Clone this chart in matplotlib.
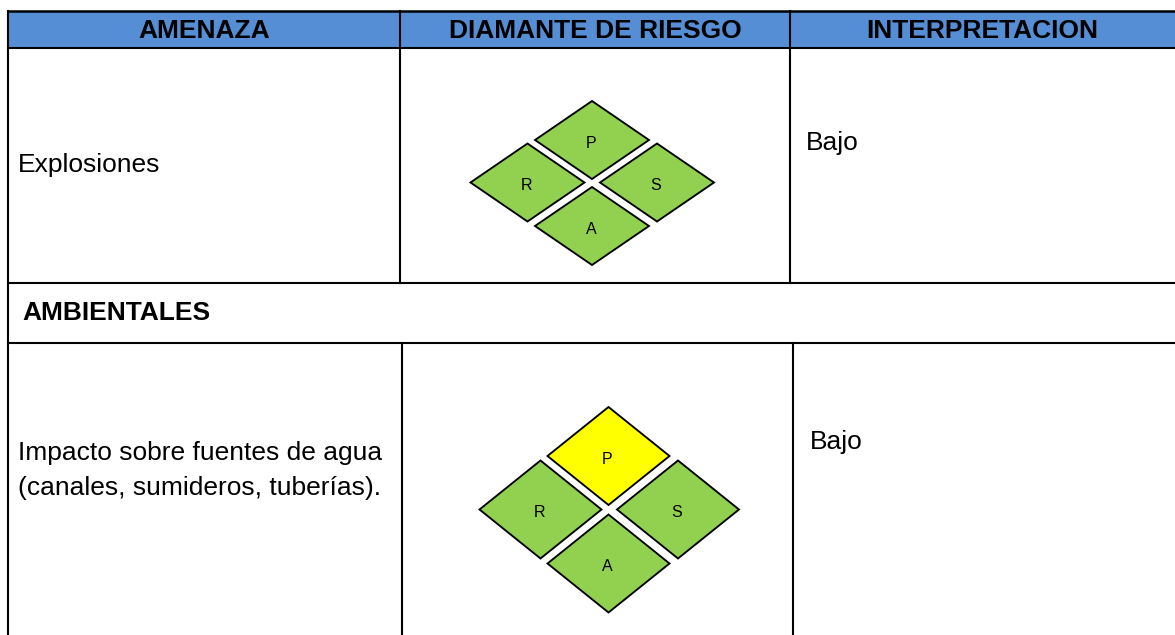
import matplotlib.pyplot as plt
from matplotlib.patches import Polygon, Rectangle

# Table content
headers = ["AMENAZA", "DIAMANTE DE RIESGO", "INTERPRETACION"]
section_title = "AMBIENTALES"
threats = ["Explosiones", "Impacto sobre fuentes de agua\n(canales, sumideros, tuberías)."]
interpretations = ["Bajo", "Bajo"]
diamond_letters = ["P", "R", "S", "A"]
# risk level of each diamond (P, R, S, A) per threat
risk_levels = [
    ["bajo", "bajo", "bajo", "bajo"],
    ["medio", "bajo", "bajo", "bajo"],
]
level_colors = {"bajo": "#92d050", "medio": "#ffff00", "alto": "#ff0000"}

W, H = 1175, 635
px = 1 / 100
fig = plt.figure(figsize=(W * px, H * px), dpi=100)
ax = fig.add_axes([0, 0, 1, 1])
ax.set_xlim(0, W)
ax.set_ylim(H, 0)
ax.axis("off")

body_font = ["Liberation Sans", "DejaVu Sans"]

# Layout (pixels)
left, right = 8, W
y_top, y_head, y_row1, y_sec = 10.5, 47.5, 283, 342.5
cols_top = [400, 790]
cols_bot = [402, 793]

# Header band
ax.add_patch(Rectangle((left, y_top), right - left, y_head - y_top,
                       facecolor="#558ed5", edgecolor="none", zorder=1))
col_edges = [left] + cols_top + [right]
for i, h in enumerate(headers):
    cx = (col_edges[i] + col_edges[i + 1]) / 2
    ax.text(cx, (y_top + y_head) / 2 + 1.5, h, ha="center", va="center",
            fontsize=19, fontweight="bold", family=body_font, zorder=3)

# Grid lines
lw = 1.5
ax.plot([left, right], [y_top, y_top], color="black", lw=1.8, zorder=2)
for y in [y_head, y_row1, y_sec]:
    ax.plot([left, right], [y, y], color="black", lw=lw, zorder=2)
ax.plot([left, left], [y_top, H], color="black", lw=lw, zorder=2)
for x in cols_top:
    ax.plot([x, x], [y_top, y_row1], color="black", lw=lw, zorder=2)
for x in cols_bot:
    ax.plot([x, x], [y_sec, H], color="black", lw=lw, zorder=2)

# Section row
ax.text(22, (y_row1 + y_sec) / 2, section_title, ha="left", va="center",
        fontsize=19, fontweight="bold", family=body_font)

# Rows text
threat_y = [165, 470.5]
interp_pos = [(806, 143), (810, 442)]
for i, t in enumerate(threats):
    ax.text(18, threat_y[i], t, ha="left", va="center", fontsize=19,
            family=body_font, linespacing=1.55)
    ax.text(interp_pos[i][0], interp_pos[i][1], interpretations[i],
            ha="left", va="center", fontsize=19, family=body_font)

# Risk diamonds: center, half width, half height, offsets of P, R, S, A
diamond_layout = [
    dict(c=(592, 182.5), hw=57, hh=39,
         off=[(0, -42.5), (-64.5, 0), (65, 0), (0, 43.5)]),
    dict(c=(608.5, 509.5), hw=61, hh=49,
         off=[(0, -53.5), (-68, 0), (69.5, 0), (0, 54)]),
]
for levels, lay in zip(risk_levels, diamond_layout):
    cx, cy = lay["c"]
    hw, hh = lay["hw"], lay["hh"]
    for letter, level, (dx, dy) in zip(diamond_letters, levels, lay["off"]):
        x0, y0 = cx + dx, cy + dy
        pts = [(x0, y0 - hh), (x0 + hw, y0), (x0, y0 + hh), (x0 - hw, y0)]
        ax.add_patch(Polygon(pts, closed=True, facecolor=level_colors[level],
                             edgecolor="black", lw=1.35, zorder=4))
        ax.text(x0 - 1, y0 + 3, letter, ha="center", va="center",
                fontsize=11.5, family=body_font, zorder=5)

fig.savefig("out.png", dpi=100)
